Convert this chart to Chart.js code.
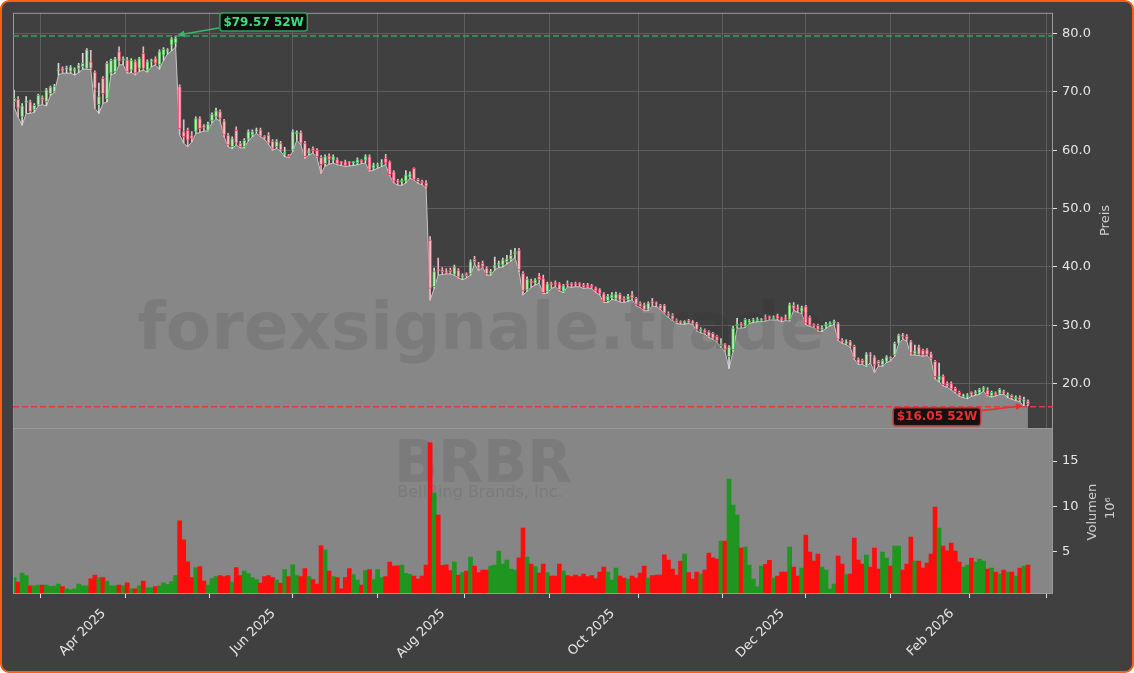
<!DOCTYPE html>
<html lang="de">
<head>
  <meta charset="UTF-8">
  <title>BRBR 52W</title>
  <script src="https://cdn.jsdelivr.net/npm/chart.js"></script>
  <style>
    html, body { margin: 0; padding: 0; background: #ffffff; }
    .frame {
      position: absolute; left: 0; top: 0;
      width: 1134px; height: 673px; box-sizing: border-box;
      border: 2px solid #ff5e10; border-radius: 9px; background: #404040;
    }
    #chart { position: absolute; left: 0; top: 0; }
  </style>
</head>
<body>
  <div class="frame"></div>
  <canvas id="chart" width="1134" height="673"></canvas>

  <script>
    // Trading days from 7 Mar 2025 to 9 Mar 2026 (index = trading day number)
    const ticker = "BRBR";
    const company = "BellRing Brands, Inc.";
    const watermark = "forexsignale.trade";

    // month start ticks (trading-day index) and their labels
    const monthTicks = [17, 38, 59, 79, 101, 122, 143, 166, 185, 207, 227, 246];
    const monthLabels = ["Apr 2025", "", "Jun 2025", "", "Aug 2025", "", "Oct 2025", "", "Dec 2025", "", "Feb 2026", ""];
    const priceTicks = [20, 30, 40, 50, 60, 70, 80];
    const volumeTicks = [5, 10, 15];

    const opens = [
      68.3,68.7,65.7,68.2,68.3,66.9,67.7,69.0,68.3,69.7,
      70.0,73.6,74.0,73.9,73.5,73.6,74.0,74.3,74.0,75.2,
      73.4,67.8,72.3,68.8,73.2,73.4,76.9,75.4,75.5,73.7,
      75.2,74.0,76.6,73.7,75.2,75.7,74.6,76.3,77.0,78.0,
      78.4,70.9,63.2,63.4,62.5,63.2,65.4,64.1,63.4,65.0,
      65.7,66.6,65.0,62.6,60.6,63.4,61.2,60.6,61.9,62.6,
      63.2,63.5,62.3,62.6,61.5,60.6,61.2,59.3,59.2,60.0,
      62.8,63.0,61.2,59.5,60.3,60.0,58.8,57.7,59.0,58.3,
      58.4,57.9,58.0,57.9,57.8,57.8,58.2,58.3,58.9,56.9,
      57.3,57.6,58.6,58.0,56.3,54.8,54.6,54.7,55.4,56.9,
      55.0,54.7,54.4,44.6,36.6,39.6,39.5,39.3,39.4,38.7,
      39.4,38.2,38.8,38.8,41.3,40.4,40.6,39.8,38.9,39.8,
      40.4,40.3,40.9,41.3,42.2,42.9,38.9,36.0,37.6,37.2,
      38.4,38.0,35.8,37.1,37.3,37.1,35.8,37.1,37.0,37.1,
      37.0,36.9,36.9,36.8,36.4,36.1,35.4,34.2,34.7,34.5,
      35.3,34.6,34.4,35.2,34.6,33.8,33.5,32.7,34.0,33.8,
      33.4,33.4,32.0,31.7,30.9,30.6,30.4,30.8,30.6,30.3,
      29.0,29.2,28.9,28.6,28.1,26.5,26.8,24.6,25.8,29.9,
      30.3,29.8,30.5,30.7,30.8,30.8,31.3,31.5,31.0,31.6,
      31.2,31.3,30.9,33.4,33.0,32.4,33.2,31.4,30.0,30.0,
      29.3,29.8,30.1,30.4,30.3,27.4,26.9,27.2,26.4,24.2,
      24.0,23.0,24.9,24.6,23.8,23.2,23.8,24.4,24.9,26.9,
      28.2,28.1,27.2,25.1,26.3,25.7,25.8,25.1,23.8,20.6,
      21.3,20.1,20.0,19.2,18.5,17.8,17.7,18.4,18.3,18.4,
      18.9,18.9,17.9,18.4,18.3,18.6,17.9,18.0,17.4,17.6,
      17.0,17.0
    ];
    const highs = [
      70.3,69.2,68.0,69.2,68.6,68.0,69.6,69.3,70.6,71.0,
      71.3,74.9,74.3,74.4,74.5,74.1,74.9,76.6,77.4,77.1,
      73.6,71.5,72.6,75.2,75.6,75.9,77.7,76.0,75.9,75.7,
      75.5,75.9,77.7,75.5,75.6,76.0,77.2,77.6,77.4,79.3,
      79.57,71.2,65.2,63.8,63.2,65.7,65.7,64.4,64.8,66.4,
      67.2,66.9,65.3,62.9,62.3,64.0,61.5,62.0,63.5,63.5,
      63.8,63.8,62.5,63.0,61.8,61.8,61.5,60.5,59.3,63.5,
      63.3,63.3,61.5,60.3,60.6,60.3,59.1,59.2,59.4,59.2,
      58.7,58.1,58.3,58.1,58.1,58.7,58.4,59.2,59.2,57.8,
      57.8,58.4,59.3,58.2,56.5,55.0,55.1,56.5,56.3,57.0,
      55.2,54.9,54.8,45.2,39.8,41.5,39.9,39.7,39.8,40.3,
      39.7,38.8,39.0,41.2,41.8,40.8,41.0,40.0,39.6,41.7,
      41.0,41.5,42.0,42.9,43.2,43.2,39.2,38.3,37.9,38.0,
      38.9,38.6,37.4,37.4,37.6,37.3,37.0,37.6,37.3,37.4,
      37.3,37.2,37.2,37.0,36.6,36.3,35.6,35.3,35.6,35.7,
      35.5,34.9,35.3,35.8,34.8,34.0,33.8,34.0,34.6,34.0,
      33.6,33.6,32.3,32.0,31.1,30.8,30.8,31.0,30.8,30.5,
      29.6,29.4,29.1,28.8,28.3,27.7,26.9,26.5,29.8,31.2,
      30.5,31.2,31.0,31.2,31.3,31.2,31.8,31.6,31.6,31.9,
      31.4,31.8,33.8,33.9,33.5,33.3,33.4,31.6,30.3,30.2,
      29.9,30.5,30.6,30.9,30.5,27.7,27.5,27.4,26.6,24.4,
      24.2,25.3,25.3,24.8,24.0,24.2,24.8,24.6,27.1,28.5,
      28.6,28.4,27.4,26.6,26.6,25.9,26.0,25.4,24.0,23.5,
      21.5,20.3,20.3,19.4,18.7,18.2,18.3,18.6,18.8,19.2,
      19.5,19.3,18.7,18.6,19.2,18.9,18.4,18.1,17.9,17.9,
      17.7,17.2
    ];
    const lows = [
      67.4,65.7,64.3,66.3,66.3,66.5,67.6,67.8,67.6,69.4,
      69.9,72.9,73.2,73.2,73.2,72.9,73.3,73.9,73.9,73.8,
      67.2,66.3,68.0,68.3,72.9,73.2,74.6,74.7,73.2,73.3,
      72.9,73.5,73.7,73.4,74.3,74.6,73.9,75.4,76.5,77.0,
      77.7,62.6,61.2,60.6,61.4,62.9,63.0,63.3,63.3,64.7,
      65.4,65.0,62.3,60.6,60.3,60.9,60.4,60.4,61.6,62.3,
      62.9,62.3,61.9,61.0,60.0,60.3,59.8,58.9,58.7,59.8,
      61.7,60.9,58.6,59.2,59.5,58.7,56.0,57.3,57.6,57.8,
      57.5,57.4,57.2,57.3,57.4,57.5,57.7,57.8,56.4,56.6,
      56.9,57.2,57.5,55.6,54.4,54.0,54.0,54.4,55.2,54.9,
      54.3,54.1,53.5,34.3,36.3,38.6,38.7,38.8,38.8,38.6,
      38.1,37.8,38.1,38.6,40.5,39.4,39.9,38.6,38.6,39.5,
      39.9,40.0,40.5,41.0,41.6,39.2,35.2,35.8,36.5,36.9,
      37.2,35.4,35.5,36.3,36.6,35.9,35.6,36.6,36.5,36.6,
      36.6,36.3,36.4,36.3,35.6,35.2,33.9,33.9,34.4,34.3,
      34.0,33.9,34.1,34.4,33.3,33.0,32.5,32.5,33.3,33.2,
      32.7,31.9,31.3,30.8,30.3,30.2,30.2,30.3,30.1,29.0,
      28.7,28.5,27.9,27.6,27.1,26.2,25.5,22.6,25.5,29.5,
      29.5,29.6,30.3,30.5,30.6,30.6,30.7,30.9,30.9,30.9,
      30.6,30.8,30.7,32.6,32.2,32.0,30.1,29.8,29.6,29.0,
      28.9,29.5,29.9,30.1,27.4,26.9,26.7,26.2,24.2,23.3,
      23.3,22.9,23.6,21.9,23.0,23.0,23.6,23.9,24.7,26.8,
      27.6,27.3,24.9,24.9,24.8,24.7,24.8,24.1,20.8,20.3,
      19.6,19.4,18.9,18.4,17.8,17.6,17.4,17.8,18.0,18.2,
      18.7,17.9,17.7,17.9,18.1,18.2,17.6,17.3,17.1,16.9,
      16.05,16.2
    ];
    const closes = [
      68.9,67.2,67.6,68.4,66.6,67.7,69.4,68.6,70.4,70.8,
      71.0,73.8,73.6,74.1,74.3,73.8,74.6,74.9,77.2,74.0,
      70.6,69.2,69.7,74.9,75.4,75.7,75.2,75.7,73.4,75.4,
      73.2,75.7,74.0,75.2,75.4,74.9,76.9,77.3,77.2,79.1,
      79.2,63.7,62.3,61.7,62.0,65.4,63.7,63.9,64.5,66.2,
      66.8,65.5,62.6,60.9,62.0,61.2,60.6,61.7,63.2,63.2,
      63.5,62.4,62.1,61.2,60.3,61.5,60.0,59.7,58.9,63.2,
      63.0,61.2,58.9,59.9,59.9,58.9,57.5,58.9,58.4,58.9,
      57.7,57.8,57.4,57.8,57.9,58.4,58.0,58.9,56.6,57.5,
      57.5,57.8,57.8,55.8,54.7,54.5,54.8,55.8,55.9,55.0,
      54.6,54.4,53.8,36.3,39.2,39.3,39.2,39.0,39.1,40.0,
      38.3,38.5,38.5,40.9,40.9,39.8,40.1,38.8,39.3,40.3,
      40.6,41.2,41.4,42.0,42.5,39.5,35.9,37.9,37.2,37.8,
      37.8,35.6,37.1,36.9,37.0,36.1,36.8,36.9,36.9,36.9,
      36.9,36.5,36.6,36.6,35.9,35.5,34.1,35.0,35.2,35.4,
      34.3,34.3,35.0,34.7,33.5,33.2,32.7,33.8,33.8,33.6,
      32.9,32.1,31.6,31.0,30.5,30.4,30.6,30.5,30.3,29.2,
      29.3,28.7,28.1,27.8,27.3,26.8,25.8,26.3,29.5,30.1,
      30.0,31.0,30.7,30.9,31.0,31.0,31.0,31.2,31.3,31.2,
      30.9,31.0,33.5,32.9,32.7,33.0,30.4,30.0,29.9,29.2,
      29.6,30.2,30.4,30.5,27.6,27.1,27.1,26.4,24.4,23.5,
      23.5,25.1,24.7,23.2,23.4,24.0,24.6,24.3,26.9,28.3,
      28.1,27.6,25.2,25.6,25.0,24.9,25.0,24.3,21.2,21.3,
      19.8,19.6,19.1,18.6,18.0,18.0,17.9,18.2,18.5,19.0,
      19.3,18.1,18.5,18.1,19.0,18.4,18.1,17.6,17.6,17.2,
      17.2,16.5
    ];
    // volume in millions of shares
    const volumes = [
      2.14,1.66,2.65,2.36,1.25,1.25,1.33,1.33,1.33,1.18,
      1.20,1.44,1.15,0.90,0.80,0.90,1.44,1.25,1.25,2.00,
      2.43,2.14,2.14,1.77,1.25,1.25,1.33,1.25,1.58,0.90,
      0.90,1.25,1.77,1.03,1.03,1.15,1.25,1.58,1.40,1.70,
      2.36,8.41,6.32,3.90,2.14,3.24,3.35,1.77,1.33,2.03,
      2.25,2.36,2.25,2.36,1.66,3.24,2.36,2.87,2.58,2.14,
      1.92,1.55,2.25,2.36,2.14,1.88,1.55,3.02,2.25,3.57,
      2.36,2.25,3.13,2.25,1.92,1.44,5.66,5.22,2.87,2.25,
      2.14,0.90,2.14,3.13,2.47,1.88,1.33,2.91,3.02,1.92,
      3.02,2.14,2.25,3.86,3.42,3.46,3.53,2.61,2.50,2.32,
      1.99,2.32,3.53,17.0,11.46,9.04,3.50,3.57,2.91,3.86,
      2.43,2.69,2.87,4.41,3.42,2.69,2.98,2.98,3.42,3.53,
      5.07,3.64,4.08,3.09,2.98,4.34,7.60,4.41,3.64,3.35,
      2.65,3.64,2.69,2.32,2.32,3.64,2.87,2.36,2.25,2.43,
      2.25,2.54,2.25,2.36,2.03,2.76,3.31,2.76,1.88,3.20,
      2.32,2.10,1.99,2.32,2.10,2.65,3.42,2.10,2.36,2.43,
      2.43,4.67,4.08,3.09,2.43,3.97,4.74,2.69,1.99,2.76,
      2.54,2.98,4.85,4.34,4.19,6.17,6.17,13.0,10.14,9.04,
      5.40,5.51,3.53,1.99,1.14,3.42,3.60,4.04,2.10,2.32,
      2.76,2.76,5.51,3.31,2.32,3.20,6.83,4.96,3.97,4.74,
      3.31,2.98,0.89,1.44,4.52,3.64,2.47,2.54,6.50,4.08,
      3.64,4.63,3.31,5.40,3.09,4.96,4.30,3.42,5.62,5.62,
      2.98,3.64,6.61,3.97,3.97,3.20,3.75,4.74,9.92,7.60,
      5.62,5.11,5.95,5.07,3.86,3.31,3.53,4.30,3.86,4.19,
      3.97,3.09,3.20,2.76,2.54,2.98,2.76,2.76,2.32,3.20,
      3.42,3.53
    ];

    Chart.defaults.font.family = '"DejaVu Sans", sans-serif';

    const up = opens.map((o, i) => closes[i] >= o);
    const hi52 = Math.max(...highs);
    const lo52 = Math.min(...lows);
    const hiIdx = highs.indexOf(hi52);
    const loIdx = lows.indexOf(lo52);

    function arrow(ctx, x1, y1, x2, y2, color) {
      const ang = Math.atan2(y2 - y1, x2 - x1);
      ctx.strokeStyle = color;
      ctx.fillStyle = color;
      ctx.lineWidth = 1.6;
      ctx.beginPath();
      ctx.moveTo(x1, y1);
      ctx.lineTo(x2 - 5 * Math.cos(ang), y2 - 5 * Math.sin(ang));
      ctx.stroke();
      ctx.beginPath();
      ctx.moveTo(x2, y2);
      ctx.lineTo(x2 - 7 * Math.cos(ang) + 3.5 * Math.sin(ang), y2 - 7 * Math.sin(ang) - 3.5 * Math.cos(ang));
      ctx.lineTo(x2 - 7 * Math.cos(ang) - 3.5 * Math.sin(ang), y2 - 7 * Math.sin(ang) + 3.5 * Math.cos(ang));
      ctx.closePath();
      ctx.fill();
    }

    function tag(ctx, text, cx, cy, textColor, edgeColor, fill) {
      ctx.font = 'bold 12px "DejaVu Sans"';
      const w = ctx.measureText(text).width + 7;
      const h = 18;
      ctx.beginPath();
      ctx.roundRect(cx - w / 2, cy - h / 2, w, h, 3);
      ctx.fillStyle = fill;
      ctx.fill();
      ctx.lineWidth = 1.5;
      ctx.strokeStyle = edgeColor;
      ctx.stroke();
      ctx.fillStyle = textColor;
      ctx.textAlign = "center";
      ctx.textBaseline = "middle";
      ctx.fillText(text, cx, cy + 0.5);
      return w;
    }

    function vText(ctx, text, x, y) {
      ctx.save();
      ctx.translate(x, y);
      ctx.rotate(-Math.PI / 2);
      ctx.textAlign = "center";
      ctx.textBaseline = "middle";
      ctx.fillText(text, 0, 0);
      ctx.restore();
    }

    const decor = {
      id: "decor",
      beforeDatasetsDraw(chart) {
        const { ctx, chartArea: a, scales: { vol } } = chart;
        ctx.save();
        ctx.fillStyle = "#868686";
        ctx.fillRect(a.left, vol.top, a.right - a.left, vol.bottom - vol.top);
        ctx.fillStyle = "#7b7b7b";
        ctx.textAlign = "center";
        ctx.textBaseline = "alphabetic";
        ctx.font = 'bold 58px "DejaVu Sans"';
        ctx.fillText(ticker, 483, 482);
        ctx.font = '16px "DejaVu Sans"';
        ctx.fillText(company, 480, 497);
        ctx.restore();
      },
      afterDatasetsDraw(chart) {
        const { ctx, chartArea: a, scales: { x, y, vol } } = chart;
        ctx.save();

        // watermark
        ctx.fillStyle = "rgba(30,30,30,0.11)";
        ctx.font = 'bold 66px "DejaVu Sans"';
        ctx.textAlign = "center";
        ctx.textBaseline = "alphabetic";
        ctx.fillText(watermark, 481, 349);

        // panel frames
        ctx.strokeStyle = "#9a9a9a";
        ctx.lineWidth = 1;
        ctx.strokeRect(a.left + 0.5, a.top + 0.5, a.right - a.left - 1, a.bottom - a.top - 1);
        ctx.beginPath();
        ctx.moveTo(a.left, Math.round(y.bottom) + 0.5);
        ctx.lineTo(a.right, Math.round(y.bottom) + 0.5);
        ctx.stroke();

        // 52 week high / low lines
        const yHi = y.getPixelForValue(hi52);
        const yLo = y.getPixelForValue(lo52);
        ctx.setLineDash([6, 3]);
        ctx.lineWidth = 1.5;
        ctx.strokeStyle = "#3a9e5f";
        ctx.beginPath(); ctx.moveTo(a.left, yHi); ctx.lineTo(a.right, yHi); ctx.stroke();
        ctx.strokeStyle = "#e03a3a";
        ctx.beginPath(); ctx.moveTo(a.left, yLo); ctx.lineTo(a.right, yLo); ctx.stroke();
        ctx.setLineDash([]);

        // tags with arrows
        const xHi = x.getPixelForValue(hiIdx);
        const xLo = x.getPixelForValue(loIdx);
        const wHi = tag(ctx, "$" + hi52.toFixed(2) + " 52W", xHi + 88, yHi - 14, "#3ddc84", "#2e9e5a", "#0c0c0c");
        arrow(ctx, xHi + 88 - wHi / 2 - 1, yHi - 8, xHi + 2, yHi - 1, "#3cb371");
        const wLo = tag(ctx, "$" + lo52.toFixed(2) + " 52W", xLo - 87, yLo + 10, "#e8302f", "#c83030", "#161010");
        arrow(ctx, xLo - 87 + wLo / 2 + 1, yLo + 4, xLo - 1, yLo - 1, "#e8302f");

        // axis titles
        ctx.fillStyle = "#cfcfcf";
        ctx.font = '13px "DejaVu Sans"';
        vText(ctx, "Preis", 1106, (y.top + y.bottom) / 2);
        vText(ctx, "Volumen", 1093, (vol.top + vol.bottom) / 2 + 1);
        vText(ctx, "10⁶", 1111, (vol.top + vol.bottom) / 2 - 3);
        ctx.restore();
      }
    };

    const tickFont = { family: '"DejaVu Sans", sans-serif', size: 13 };

    new Chart(document.getElementById("chart"), {
      type: "bar",
      data: {
        datasets: [
          {
            // low line with grey area below
            type: "line",
            data: lows.map((v, i) => ({ x: i, y: v })),
            yAxisID: "y",
            borderColor: "#c6c6c6",
            borderWidth: 1,
            backgroundColor: "#878787",
            fill: "start",
            pointRadius: 0,
            tension: 0,
            order: 3
          },
          {
            // wicks
            data: lows.map((v, i) => ({ x: i, y: [v, highs[i]] })),
            yAxisID: "y",
            backgroundColor: up.map(u => u ? "#d8d8d8" : "#e8b6bf"),
            barThickness: 1,
            grouped: false,
            order: 2
          },
          {
            // bodies
            data: opens.map((v, i) => ({ x: i, y: [v, closes[i]] })),
            yAxisID: "y",
            backgroundColor: up.map(u => u ? "#c4eac4" : "#f6c3cc"),
            borderColor: up.map(u => u ? "#44b84c" : "#e4506c"),
            borderWidth: 1,
            borderSkipped: false,
            barThickness: 3,
            minBarLength: 1.5,
            grouped: false,
            order: 1
          },
          {
            // volume
            data: volumes.map((v, i) => ({ x: i, y: v })),
            yAxisID: "vol",
            backgroundColor: up.map(u => u ? "#1f961f" : "#ff0d0d"),
            barPercentage: 1,
            categoryPercentage: 1,
            grouped: false,
            order: 0
          }
        ]
      },
      options: {
        responsive: false,
        animation: false,
        layout: { padding: { left: 13, top: 12, right: 0, bottom: 0 } },
        plugins: {
          legend: { display: false },
          tooltip: { enabled: false }
        },
        scales: {
          x: {
            type: "linear",
            min: -0.26,
            max: 257.2,
            offset: false,
            afterBuildTicks: s => { s.ticks = monthTicks.map(v => ({ value: v })); },
            afterFit: s => { s.height = 79; },
            grid: { color: "#5e5e5e", tickColor: "#e0e0e0", tickLength: 4 },
            border: { display: false },
            ticks: {
              autoSkip: false,
              minRotation: 45,
              maxRotation: 45,
              padding: 8,
              labelOffset: 21,
              color: "#e6e6e6",
              font: tickFont,
              callback: (v, i) => monthLabels[i]
            }
          },
          y: {
            type: "linear",
            position: "right",
            stack: "panes",
            stackWeight: 2.506,
            min: 12.35,
            max: 83.55,
            afterBuildTicks: s => { s.ticks = priceTicks.map(v => ({ value: v })); },
            afterFit: s => { s.width = 81; },
            grid: { color: "#5e5e5e", tickColor: "#e0e0e0", tickLength: 4 },
            border: { display: false },
            ticks: { padding: 5, color: "#e6e6e6", font: tickFont, callback: v => v.toFixed(1) }
          },
          vol: {
            type: "linear",
            position: "right",
            stack: "panes",
            stackWeight: 1,
            min: 0.34,
            max: 18.62,
            afterBuildTicks: s => { s.ticks = volumeTicks.map(v => ({ value: v })); },
            afterFit: s => { s.width = 81; },
            grid: { drawOnChartArea: false, tickColor: "#e0e0e0", tickLength: 4 },
            border: { display: false },
            ticks: { padding: 5, color: "#e6e6e6", font: tickFont, callback: v => String(v) }
          }
        }
      },
      plugins: [decor]
    });
  </script>
</body>
</html>
